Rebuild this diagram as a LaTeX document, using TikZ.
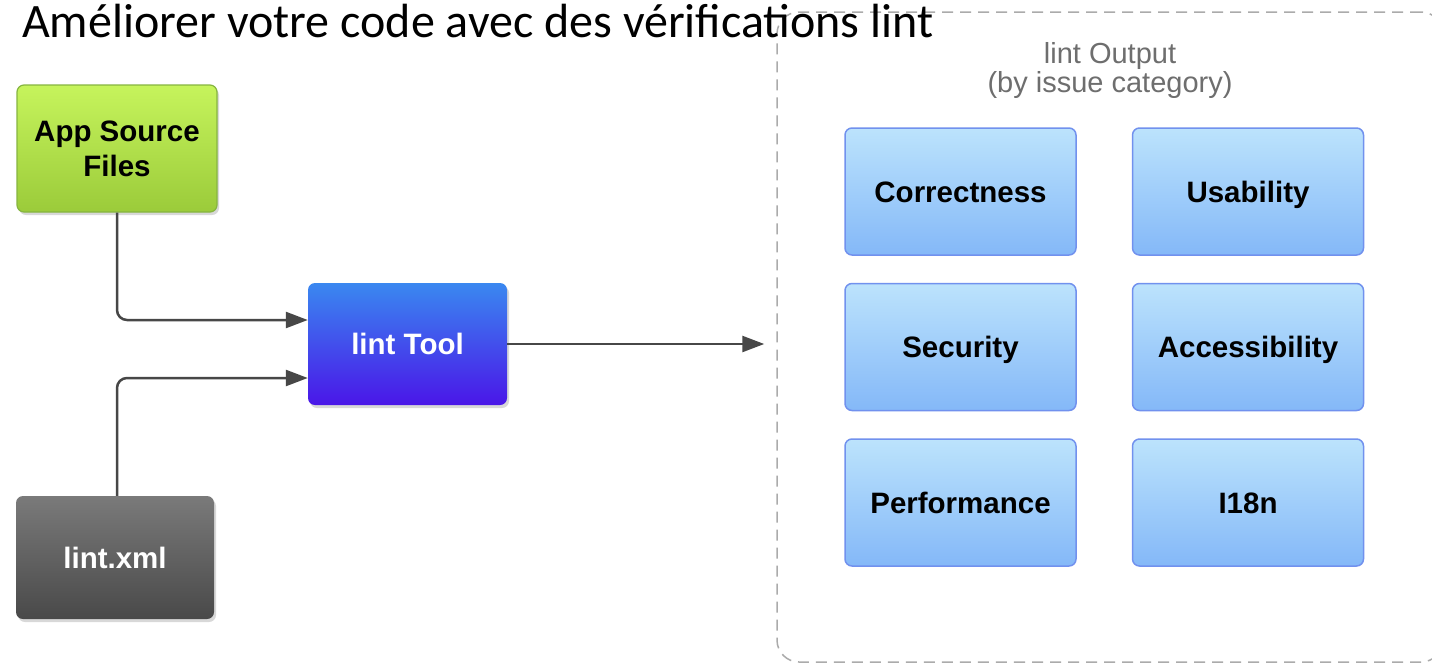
\documentclass[tikz,border=0pt]{standalone}
\usepackage{fontspec}
\setmainfont{Carlito}
\newfontfamily\boxfont{Liberation Sans}
\usetikzlibrary{arrows.meta,shadows}

\definecolor{LintInk}{HTML}{474747}
\definecolor{LintDash}{HTML}{ABABAB}
\definecolor{LintNote}{HTML}{6E6E6E}
\definecolor{LimeTop}{HTML}{C6F45C}
\definecolor{LimeBot}{HTML}{9BCB3A}
\definecolor{LimeRule}{HTML}{86B540}
\definecolor{ToolTop}{HTML}{3A88F0}
\definecolor{ToolBot}{HTML}{4A16E8}
\definecolor{XmlTop}{HTML}{7A7A7A}
\definecolor{XmlBot}{HTML}{494949}
\definecolor{SkyTop}{HTML}{BCE3FC}
\definecolor{SkyBot}{HTML}{84B8F8}
\definecolor{SkyRule}{HTML}{7191EE}

\tikzset{
  card/.style={rounded corners=7pt,minimum width=200pt,minimum height=125pt,
    align=center,font=\boxfont\bfseries\fontsize{29.5}{35}\selectfont},
  lifted/.style={drop shadow={opacity=0.3,shadow xshift=2pt,shadow yshift=-3pt}},
  category/.style={card,minimum width=231pt,minimum height=127pt,
    text height=21pt,text depth=0pt,
    top color=SkyTop,bottom color=SkyBot,draw=SkyRule,line width=1.5pt},
  flow/.style={LintInk,line width=2.5pt,rounded corners=10pt,
    -{Triangle[length=22pt,width=16pt]}},
}

\begin{document}
\begin{tikzpicture}[x=1pt,y=-1pt]
  \fill[white] (0,0) rectangle (1432,667);
  \useasboundingbox (0,0) rectangle (1432,667);

  % output group
  \node[draw=LintDash,line width=1.5pt,dash pattern=on 11pt off 7pt,
    rounded corners=22pt,minimum width=666pt,minimum height=650pt]
    (out) at (1110,337) {};
  \node[anchor=north,inner sep=0pt,align=center,text=LintNote,
    font=\boxfont\fontsize{29}{29}\selectfont]
    (outlabel) at (1110,42) {lint Output\\(by issue category)};

  \node[category] (correct) at (960.5,191.5) {Correctness};
  \node[category] (usab)    at (1248,191.5)  {Usability};
  \node[category] (secur)   at (960.5,347)   {Security};
  \node[category] (access)  at (1248,347)    {Accessibility};
  \node[category] (perf)    at (960.5,502.5) {Performance};
  \node[category] (intl)    at (1248,502.5)  {I18n};

  % inputs and tool
  \node[card,lifted,top color=LimeTop,bottom color=LimeBot,draw=LimeRule,
    line width=1.2pt,minimum height=127pt] (src) at (117,148.5) {App Source\\Files};
  \node[card,lifted,top color=ToolTop,bottom color=ToolBot,text=white,
    minimum width=199pt,minimum height=122pt] (tool) at (407.5,344) {lint Tool};
  \node[card,lifted,top color=XmlTop,bottom color=XmlBot,text=white,
    minimum width=198pt,minimum height=123pt] (xml) at (115,557.5) {lint.xml};

  \draw[flow] (src.south) |- ([yshift=24pt]tool.west);
  \draw[flow] ([xshift=2pt]xml.north) |- ([yshift=-34pt]tool.west);
  \draw[flow,shorten >=12pt] (tool.east) -- (tool.east -| out.west);

  \node[anchor=base west,inner sep=0pt,font=\fontsize{48}{54}\selectfont]
    (title) at (22,37) {Améliorer votre code avec des vérifications lint};
\end{tikzpicture}
\end{document}
